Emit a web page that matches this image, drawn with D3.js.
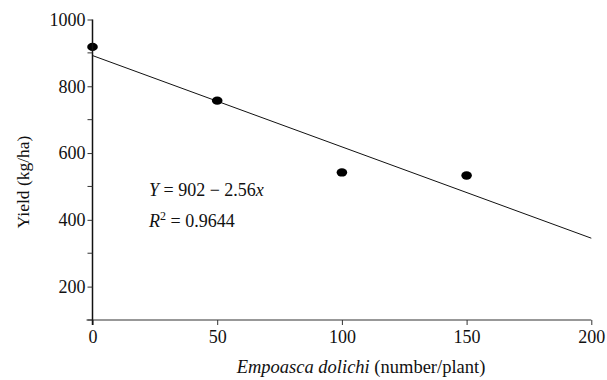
<!DOCTYPE html>
<html>
<head>
<meta charset="utf-8">
<script src="https://cdn.jsdelivr.net/npm/d3@7"></script>
<style>
  body { margin: 0; background: #fff; }
  svg text { font-family: "Liberation Serif", "Times New Roman", serif; fill: #111; }
</style>
</head>
<body>
<div id="chart"></div>
<script>
// Observed points
const pestDensity = [0, 50, 100, 150];
const yieldValues = [918, 757, 542, 533];

// Fitted line as drawn in the figure
const fitX = [0, 200];
const fitY = [892, 345];

const xTicks = [0, 50, 100, 150, 200];
const yMajorTicks = [200, 400, 600, 800, 1000];
const yMinorTicks = [100, 300, 500, 700, 900];

const width = 607;
const height = 380;
const serif = '"Liberation Serif", "Times New Roman", serif';

const svg = d3.select('#chart')
  .append('svg')
  .attr('width', width)
  .attr('height', height);

const x = d3.scaleLinear().domain([0, 200]).range([92.5, 591.3]);
const y = d3.scaleLinear().domain([100, 1000]).range([320, 19.5]);

// Fitted line
svg.append('line')
  .attr('x1', x(fitX[0]))
  .attr('y1', y(fitY[0]))
  .attr('x2', x(fitX[1]))
  .attr('y2', y(fitY[1]))
  .attr('stroke', '#111')
  .attr('stroke-width', 1);

// Points
svg.selectAll('.pt')
  .data(pestDensity.map((d, i) => ({ x: d, y: yieldValues[i] })))
  .enter()
  .append('ellipse')
  .attr('class', 'pt')
  .attr('cx', d => x(d.x))
  .attr('cy', d => y(d.y))
  .attr('rx', 5.3)
  .attr('ry', 4.2)
  .attr('fill', '#000');

// X axis
const xAxis = svg.append('g')
  .attr('transform', `translate(0,${y(100)})`)
  .attr('font-family', serif)
  .call(d3.axisBottom(x).tickValues(xTicks).tickFormat(d3.format('d'))
    .tickSize(5).tickSizeOuter(0).tickPadding(5));
xAxis.select('.domain')
  .attr('d', `M${x(0) - 6},0H${x(200)}`)
  .attr('stroke', '#333')
  .attr('stroke-width', 1.2);
xAxis.selectAll('.tick line').attr('stroke', '#333');
xAxis.selectAll('text')
  .style('font-size', '18px')
  .style('font-family', serif);

// Y axis
const yAxis = svg.append('g')
  .attr('transform', `translate(${x(0)},0)`)
  .attr('font-family', serif)
  .call(d3.axisLeft(y).tickValues(yMajorTicks).tickFormat(d3.format('d'))
    .tickSize(5).tickSizeOuter(0).tickPadding(2));
yAxis.select('.domain')
  .attr('d', `M0,${y(1000)}V${y(100) + 5}`)
  .attr('stroke', '#111')
  .attr('stroke-width', 1.5);
yAxis.selectAll('.tick line').attr('stroke', '#333');
yAxis.selectAll('text')
  .style('font-size', '18px')
  .style('font-family', serif);

// Minor ticks on y
yAxis.selectAll('.minor')
  .data(yMinorTicks)
  .enter()
  .append('line')
  .attr('class', 'minor')
  .attr('x1', -5)
  .attr('x2', 0)
  .attr('y1', d => y(d))
  .attr('y2', d => y(d))
  .attr('stroke', '#333');

// Axis titles
svg.append('text')
  .attr('transform', 'translate(29,182) rotate(-90)')
  .attr('text-anchor', 'middle')
  .style('font-size', '17.5px')
  .text('Yield (kg/ha)');

const xTitle = svg.append('text')
  .attr('x', 361)
  .attr('y', 373)
  .attr('text-anchor', 'middle')
  .style('font-size', '18.5px');
xTitle.append('tspan').style('font-style', 'italic').text('Empoasca dolichi');
xTitle.append('tspan').text(' (number/plant)');

// Regression annotation
const eq = svg.append('text')
  .attr('x', 149)
  .attr('y', 196)
  .style('font-size', '18px');
eq.append('tspan').style('font-style', 'italic').text('Y');
eq.append('tspan').text(' = 902 \u2212 2.56');
eq.append('tspan').style('font-style', 'italic').text('x');

const r2 = svg.append('text')
  .attr('x', 149)
  .attr('y', 227)
  .style('font-size', '18px');
r2.append('tspan').style('font-style', 'italic').text('R');
r2.append('tspan').attr('dy', -7).style('font-size', '12px').text('2');
r2.append('tspan').attr('dy', 7).text(' = 0.9644');
</script>
</body>
</html>
